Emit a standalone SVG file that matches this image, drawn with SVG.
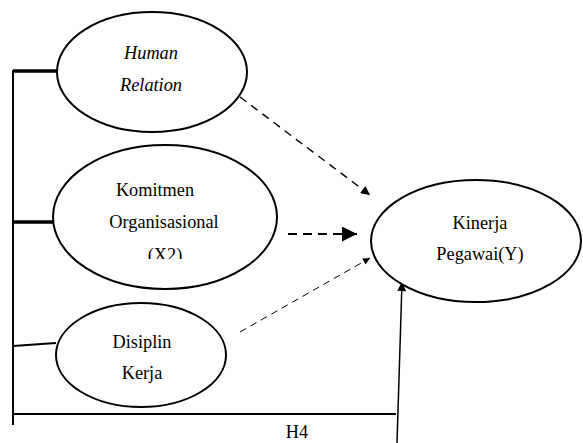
<svg xmlns="http://www.w3.org/2000/svg" width="583" height="443" viewBox="0 0 583 443">
<style>
.node ellipse{fill:#fff;stroke:#000;stroke-width:2}
text{font-family:"Liberation Serif","Times New Roman",serif;font-size:18.3px;fill:#000;text-anchor:middle}
.it{font-style:italic}
.ln{stroke:#000;fill:none}
</style>
<defs>
<marker id="ah" viewBox="0 0 10 10" refX="10" refY="5" markerWidth="10" markerHeight="9" markerUnits="userSpaceOnUse" orient="auto"><path d="M0,0L10,5L0,10z" fill="#000"/></marker>
<marker id="ahBig" viewBox="0 0 10 10" refX="10" refY="5" markerWidth="16" markerHeight="15" markerUnits="userSpaceOnUse" orient="auto"><path d="M0,0L10,5L0,10z" fill="#000"/></marker>
<marker id="ahSm" viewBox="0 0 10 10" refX="10" refY="5" markerWidth="8" markerHeight="7" markerUnits="userSpaceOnUse" orient="auto"><path d="M0,0L10,5L0,10z" fill="#000"/></marker>
<clipPath id="clipX2"><rect x="0" y="0" width="583" height="259"/></clipPath>
</defs>
<g id="connectors">
<line class="ln" x1="13" y1="70" x2="13" y2="425" stroke-width="2"/>
<line class="ln" x1="13" y1="71" x2="57" y2="71" stroke-width="3.5"/>
<line class="ln" x1="13" y1="222" x2="54" y2="222" stroke-width="3.5"/>
<line class="ln" x1="13" y1="346" x2="56" y2="343" stroke-width="2"/>
<line class="ln" x1="12" y1="414" x2="396" y2="414" stroke-width="2"/>
<line class="ln" x1="240" y1="97" x2="370" y2="195" stroke-width="1.4" stroke-dasharray="8,6" marker-end="url(#ah)"/>
<line class="ln" x1="288" y1="234" x2="357" y2="234" stroke-width="2" stroke-dasharray="9,6" marker-end="url(#ahBig)"/>
<line class="ln" x1="240" y1="332" x2="370" y2="258" stroke-width="1" stroke-dasharray="7,5" marker-end="url(#ahSm)"/>
<line class="ln" x1="397" y1="443" x2="402" y2="282" stroke-width="1.5" marker-end="url(#ah)"/>
</g>
<g id="human-relation" class="node">
<ellipse cx="152" cy="72" rx="95" ry="60"/>
<text class="it" x="151" y="59">Human</text>
<text class="it" x="151" y="91">Relation</text>
</g>
<g id="komitmen" class="node">
<ellipse cx="165" cy="217" rx="112" ry="72"/>
<text x="155" y="196">Komitmen</text>
<text x="164" y="228">Organisasional</text>
<text x="165" y="261" clip-path="url(#clipX2)">(X2)</text>
</g>
<g id="disiplin" class="node">
<ellipse cx="141" cy="355" rx="85" ry="52"/>
<text x="142" y="348">Disiplin</text>
<text x="142" y="379">Kerja</text>
</g>
<g id="kinerja" class="node">
<ellipse cx="476" cy="241" rx="105" ry="61"/>
<text x="480" y="229">Kinerja</text>
<text x="480" y="260">Pegawai(Y)</text>
</g>
<text id="h4" x="297" y="438">H4</text>
</svg>
